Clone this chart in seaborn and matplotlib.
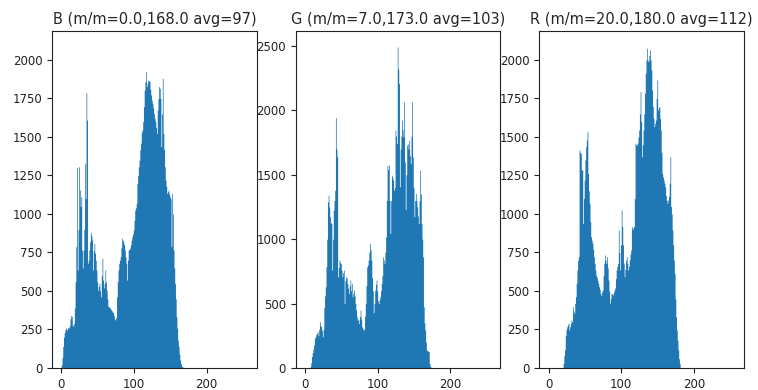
#%% IMPORTS
import numpy as np
import pandas as pd
import matplotlib.pyplot as plt
from matplotlib.ticker import MultipleLocator
import seaborn as sns

#%% DATA (per-bin pixel counts)

channels = ['B', 'G', 'R']
titles = ['B (m/m=0.0,168.0 avg=97)',
          'G (m/m=7.0,173.0 avg=103)',
          'R (m/m=20.0,180.0 avg=112)']

b_start = 0
b_counts = [
    20, 70, 140, 200, 230, 250, 260, 245, 255, 265,
    260, 275, 320, 340, 335, 280, 270, 290, 390, 560,
    788, 1303, 636, 900, 1307, 1156, 1050, 1112, 766, 650,
    766, 900, 1329, 1100, 1788, 1610, 680, 700, 766, 820,
    879, 860, 831, 636, 760, 809, 745, 700, 636, 560,
    506, 530, 550, 500, 463, 600, 712, 571, 520, 550,
    636, 560, 506, 450, 398, 400, 392, 385, 378, 372,
    365, 358, 340, 312, 320, 330, 463, 560, 636, 680,
    700, 723, 780, 842, 830, 820, 800, 766, 720, 680,
    571, 700, 766, 770, 777, 800, 830, 853, 870, 896,
    960, 1026, 1040, 1069, 1199, 1250, 1307, 1350, 1416, 1460,
    1530, 1545, 1600, 1697, 1805, 1860, 1924, 1827, 1850, 1870,
    1865, 1860, 1810, 1773, 1740, 1719, 1690, 1654, 1620, 1600,
    1560, 1524, 1675, 1750, 1827, 1816, 1750, 1437, 1650, 1881,
    1524, 1420, 1307, 1220, 1180, 1134, 1145, 1156, 1130, 1112,
    1100, 788, 1134, 1000, 766, 650, 550, 450, 333, 260,
    180, 140, 90, 52, 30, 15, 8, 4, 2,
]

g_start = 7
g_counts = [
    10, 40, 88,
    120, 150, 180, 230, 243, 260, 270, 282, 250, 300,
    360, 330, 320, 290, 243, 300, 470, 560, 630, 786,
    1000, 1290, 1342, 1250, 1174, 1130, 1122, 760, 1000, 1225,
    1300, 1380, 1944, 1700, 1639, 708, 780, 838, 820, 812,
    760, 708, 740, 760, 500, 680, 708, 700, 657, 620,
    579, 640, 683, 600, 657, 553, 580, 605, 560, 502,
    450, 398, 370, 380, 346, 400, 450, 380, 320, 310,
    295, 300, 400, 500, 640, 786, 800, 838, 900, 967,
    920, 838, 700, 600, 430, 500, 605, 650, 683, 600,
    520, 500, 530, 553, 600, 657, 720, 863, 840, 812,
    900, 1018, 1300, 1574, 1540, 1574, 1300, 1044, 1300, 1497,
    1480, 1458, 1380, 1400, 1846, 1800, 1742, 2492, 2320, 2208,
    1406, 1700, 1800, 1923, 1850, 1794, 2066, 1600, 1230, 1500,
    1729, 1740, 1700, 1768, 1650, 1587, 1800, 2066, 1639, 1400,
    1174, 1300, 1355, 1300, 1251, 1180, 1122, 1300, 1536, 1350,
    1122, 1000, 863, 476, 350, 295, 200, 140, 135, 130,
    127, 36, 15, 5,
]

r_start = 20
r_counts = [
    30, 80, 117, 210, 250, 268, 280, 290, 247, 268,
    290, 312, 300, 398, 370, 355, 420, 463, 550, 636,
    700, 723, 1416, 1400, 1394, 1286, 1286, 939, 1100, 1221,
    1350, 1437, 1480, 1535, 1264, 1150, 1069, 950, 853, 830,
    810, 770, 723, 680, 636, 600, 590, 571, 550, 528,
    510, 485, 470, 495, 506, 600, 680, 734, 700, 680,
    723, 650, 571, 500, 420, 450, 485, 480, 474, 490,
    506, 520, 580, 636, 660, 680, 896, 750, 636, 800,
    1026, 918, 800, 680, 593, 640, 700, 723, 680, 636,
    660, 701, 740, 766, 918, 900, 910, 918, 1100, 1459,
    1450, 1448, 1460, 1500, 1545, 1650, 1794, 1600, 1372, 1450,
    1545, 1650, 1784, 1913, 2000, 2076, 2000, 1989, 2030, 2065,
    2000, 1935, 1805, 1700, 1620, 1567, 1590, 1610, 1750, 1870,
    1675, 1690, 1697, 1620, 1545, 1400, 1264, 1240, 1221, 1200,
    1177, 1120, 1090, 1069, 1090, 1113, 1200, 1372, 1048, 1000,
    896, 800, 700, 615, 450, 333, 247, 180, 117, 60, 30,
]

starts = [b_start, g_start, r_start]
counts = [b_counts, g_counts, r_counts]

#%% BUILD LONG TABLE

frames = []
for ch, s, c in zip(channels, starts, counts):
    frames.append(pd.DataFrame({'channel': ch,
                                'value': np.arange(s, s + len(c)) + 0.5,
                                'count': c}))
df = pd.concat(frames, ignore_index=True)

#%% PLOT

sns.set_style('ticks')
plt.rcParams['font.family'] = ['DejaVu Sans']

fig, axes = plt.subplots(1, 3, figsize=(7.58, 3.9), dpi=100)
fig.subplots_adjust(left=0.0686, right=0.9815, bottom=0.0564, top=0.9205, wspace=0.19)

ylims = [2188, 2616, 2188]
ysteps = [250, 500, 250]

for ax, ch, title, ytop, ystep in zip(axes, channels, titles, ylims, ysteps):
    sub = df[df['channel'] == ch]
    sns.histplot(data=sub, x='value', weights='count', bins=256, binrange=(0, 256),
                 element='step', fill=True, color='#1f77b4', alpha=1,
                 linewidth=0, ax=ax)
    ax.set_xlim(-12.8, 268.8)
    ax.set_ylim(0, ytop)
    ax.xaxis.set_major_locator(MultipleLocator(100))
    ax.yaxis.set_major_locator(MultipleLocator(ystep))
    ax.set_xlabel('')
    ax.set_ylabel('')
    ax.set_title(title, fontsize=10.5, pad=5)
    ax.tick_params(labelsize=8.5, length=3.5, width=0.8, colors='#222222')
    for sp in ax.spines.values():
        sp.set_linewidth(0.8)
        sp.set_color('#222222')

fig.savefig('out.png', dpi=100)
